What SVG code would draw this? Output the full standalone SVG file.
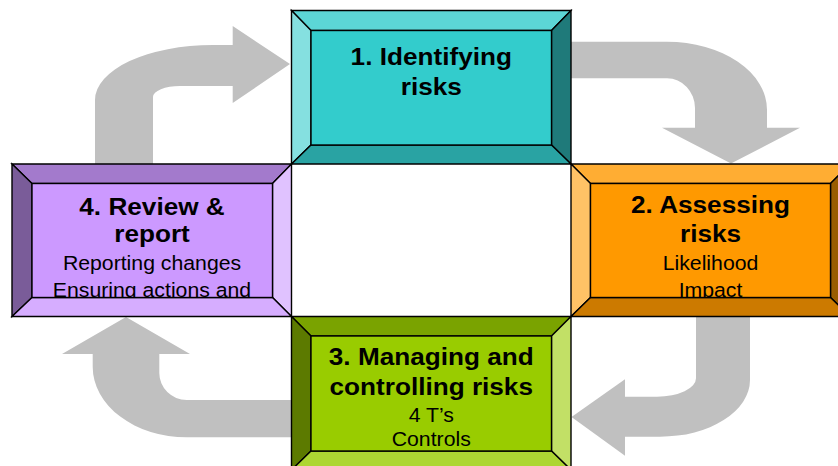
<svg xmlns="http://www.w3.org/2000/svg" width="838" height="466" viewBox="0 0 838 466">
  <style>
    .arrow { fill: #C0C0C0; stroke: none; }
    .edge { stroke: #000; stroke-width: 1.4; stroke-linejoin: miter; }
    .title { font-family: "Liberation Sans", Arial, sans-serif; font-weight: bold; font-size: 24px; text-anchor: middle; fill: #000; }
    .sub { font-family: "Liberation Sans", Arial, sans-serif; font-size: 19.5px; text-anchor: middle; fill: #000; }
  </style>
  <defs>
    <clipPath id="clip1"><rect x="311" y="30.5" width="240.5" height="114.5"/></clipPath>
    <clipPath id="clip2"><rect x="590.5" y="183.5" width="240" height="114"/></clipPath>
    <clipPath id="clip3"><rect x="311" y="336" width="240.5" height="115"/></clipPath>
    <clipPath id="clip4"><rect x="32" y="183.5" width="240.5" height="114"/></clipPath>
  </defs>

  <rect width="838" height="466" fill="#FFFFFF"/>

  <!-- cycle arrows -->
  <g id="connectors">
    <path class="arrow" d="M95,164 L95,100 A118,55 0 0 1 213,45 L232.7,45 L232.7,26 L290,64 L232.7,103 L232.7,86 L180,86 A27,11 0 0 0 153,97 L153,164 Z"/>
    <path class="arrow" d="M571,41.7 L667,41.7 A100,68 0 0 1 767,110 L767,127.7 L800,127.7 L731,163.5 L662,127.7 L695,127.7 L695,108 A28,30 0 0 0 667,78.3 L571,78.3 Z"/>
    <path class="arrow" d="M696,316.5 L750,316.5 L750,380 A90,56.7 0 0 1 660,436.7 L625,436.7 L625,455.7 L571.5,417 L625,379.3 L625,396.7 L657,396.7 A39,18.4 0 0 0 696,378.3 Z"/>
    <path class="arrow" d="M291.5,400 L186.7,400 A27.4,27 0 0 1 159.3,373 L159.3,354 L190,354 L126,317 L62,354 L92.7,354 L92.7,366.7 A94,70.6 0 0 0 186.7,437.3 L291.5,437.3 Z"/>
  </g>

  <!-- 1. Identifying risks -->
  <g id="node-identify">
    <polygon class="edge" fill="#5CD6D6" points="291.5,10.5 571,10.5 551.5,30.5 311,30.5"/>
    <polygon class="edge" fill="#85E0E0" points="291.5,10.5 311,30.5 311,145 291.5,164"/>
    <polygon class="edge" fill="#1F7A7A" points="571,10.5 571,164 551.5,145 551.5,30.5"/>
    <polygon class="edge" fill="#29A3A3" points="291.5,164 311,145 551.5,145 571,164"/>
    <rect class="edge" fill="#33CCCC" x="311" y="30.5" width="240.5" height="114.5"/>
    <g clip-path="url(#clip1)">
      <g transform="translate(431.25,0) scale(1.09,1)">
        <text class="title" x="0" y="65">1. Identifying</text>
        <text class="title" x="0" y="95">risks</text>
      </g>
    </g>
  </g>

  <!-- 2. Assessing risks -->
  <g id="node-assess">
    <polygon class="edge" fill="#FFAD33" points="571,164 850,164 830.5,183.5 590.5,183.5"/>
    <polygon class="edge" fill="#FFC266" points="571,164 590.5,183.5 590.5,297.5 571,316.5"/>
    <polygon class="edge" fill="#995C00" points="850,164 850,316.5 830.5,297.5 830.5,183.5"/>
    <polygon class="edge" fill="#CC7A00" points="571,316.5 590.5,297.5 830.5,297.5 850,316.5"/>
    <rect class="edge" fill="#FF9900" x="590.5" y="183.5" width="240" height="114"/>
    <g clip-path="url(#clip2)">
      <g transform="translate(710.5,0) scale(1.09,1)">
        <text class="title" x="0" y="213">2. Assessing</text>
        <text class="title" x="0" y="242">risks</text>
        <text class="sub" x="0" y="270">Likelihood</text>
        <text class="sub" x="0" y="297.5">Impact</text>
      </g>
    </g>
  </g>

  <!-- 3. Managing and controlling risks -->
  <g id="node-manage">
    <polygon class="edge" fill="#7AA300" points="291.5,316.5 571,316.5 551.5,336 311,336"/>
    <polygon class="edge" fill="#5C7A00" points="291.5,316.5 311,336 311,451 291.5,470"/>
    <polygon class="edge" fill="#C2E066" points="571,316.5 571,470 551.5,451 551.5,336"/>
    <polygon class="edge" fill="#ADD633" points="291.5,470 311,451 551.5,451 571,470"/>
    <rect class="edge" fill="#99CC00" x="311" y="336" width="240.5" height="115"/>
    <g clip-path="url(#clip3)">
      <g transform="translate(431.25,0) scale(1.09,1)">
        <text class="title" x="0" y="365">3. Managing and</text>
        <text class="title" x="0" y="395">controlling risks</text>
        <text class="sub" x="0" y="422">4 T’s</text>
        <text class="sub" x="0" y="446">Controls</text>
      </g>
    </g>
  </g>

  <!-- 4. Review & report -->
  <g id="node-review">
    <polygon class="edge" fill="#A37ACC" points="12,164 291.5,164 272.5,183.5 32,183.5"/>
    <polygon class="edge" fill="#7A5C99" points="12,164 32,183.5 32,297.5 12,316.5"/>
    <polygon class="edge" fill="#E0C2FF" points="291.5,164 291.5,316.5 272.5,297.5 272.5,183.5"/>
    <polygon class="edge" fill="#D6ADFF" points="12,316.5 32,297.5 272.5,297.5 291.5,316.5"/>
    <rect class="edge" fill="#CC99FF" x="32" y="183.5" width="240.5" height="114"/>
    <g clip-path="url(#clip4)">
      <g transform="translate(152,0) scale(1.09,1)">
        <text class="title" x="0" y="215">4. Review &amp;</text>
        <text class="title" x="0" y="242">report</text>
        <text class="sub" x="0" y="270">Reporting changes</text>
        <text class="sub" x="0" y="297.5">Ensuring actions and</text>
      </g>
    </g>
  </g>
</svg>
